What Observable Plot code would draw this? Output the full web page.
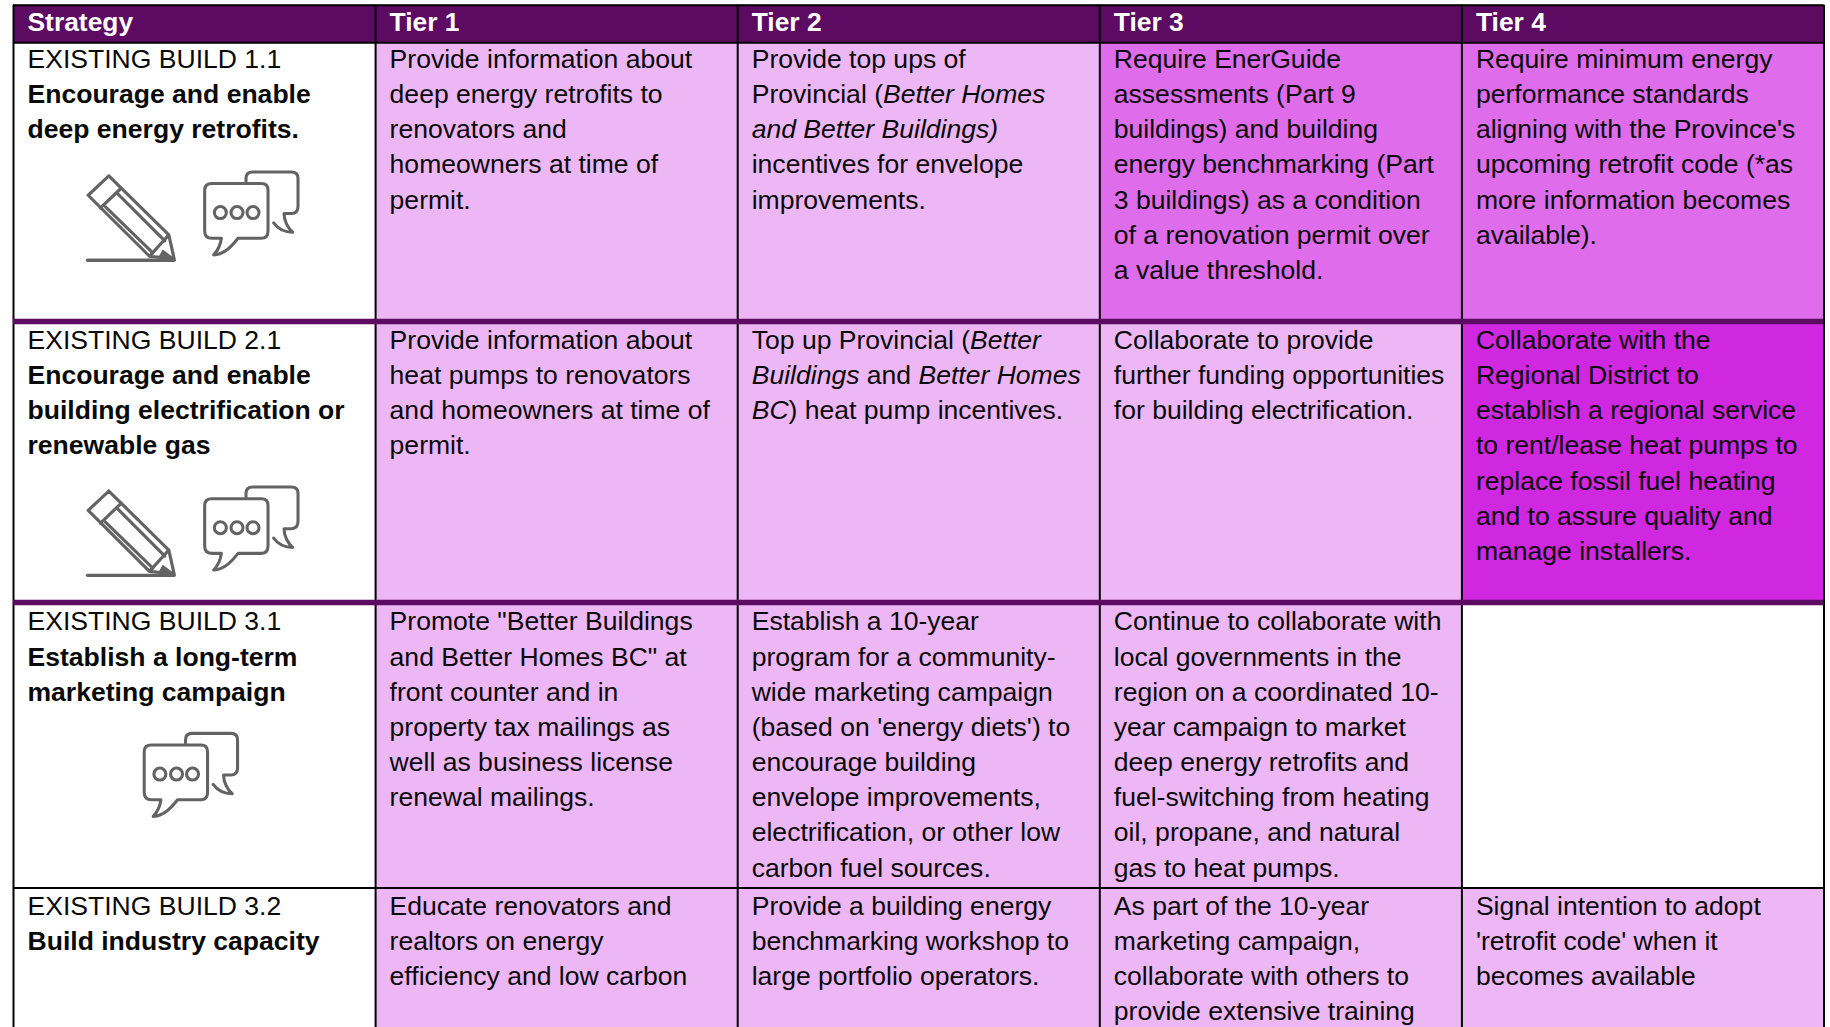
<!DOCTYPE html>
<html>
<head>
<meta charset="utf-8">
<style>html,body{margin:0;padding:0;background:#fff;overflow:hidden}svg{display:block}</style>
<script src="https://cdn.jsdelivr.net/npm/d3@7"></script>
<script src="https://cdn.jsdelivr.net/npm/@observablehq/plot@0.6"></script>
</head>
<body>
<script>
// ---- content ----
const headers = ["Strategy", "Tier 1", "Tier 2", "Tier 3", "Tier 4"];
const strategyCodes = ["EXISTING BUILD 1.1", "EXISTING BUILD 2.1", "EXISTING BUILD 3.1", "EXISTING BUILD 3.2"];
const strategyTitles = [
  ["Encourage and enable", "deep energy retrofits."],
  ["Encourage and enable", "building electrification or", "renewable gas"],
  ["Establish a long-term", "marketing campaign"],
  ["Build industry capacity"]
];
const tier1 = [
  ["Provide information about", "deep energy retrofits to", "renovators and", "homeowners at time of", "permit."],
  ["Provide information about", "heat pumps to renovators", "and homeowners at time of", "permit."],
  ["Promote \"Better Buildings", "and Better Homes BC\" at", "front counter and in", "property tax mailings as", "well as business license", "renewal mailings."],
  ["Educate renovators and", "realtors on energy", "efficiency and low carbon"]
];
const tier2 = [
  ["Provide top ups of", "Provincial (_Better Homes_", "_and Better Buildings)_", "incentives for envelope", "improvements."],
  ["Top up Provincial (_Better_", "_Buildings_ and _Better Homes_", "_BC_) heat pump incentives."],
  ["Establish a 10-year", "program for a community-", "wide marketing campaign", "(based on 'energy diets') to", "encourage building", "envelope improvements,", "electrification, or other low", "carbon fuel sources."],
  ["Provide a building energy", "benchmarking workshop to", "large portfolio operators."]
];
const tier3 = [
  ["Require EnerGuide", "assessments (Part 9", "buildings) and building", "energy benchmarking (Part", "3 buildings) as a condition", "of a renovation permit over", "a value threshold."],
  ["Collaborate to provide", "further funding opportunities", "for building electrification."],
  ["Continue to collaborate with", "local governments in the", "region on a coordinated 10-", "year campaign to market", "deep energy retrofits and", "fuel-switching from heating", "oil, propane, and natural", "gas to heat pumps."],
  ["As part of the 10-year", "marketing campaign,", "collaborate with others to", "provide extensive training"]
];
const tier4 = [
  ["Require minimum energy", "performance standards", "aligning with the Province's", "upcoming retrofit code (*as", "more information becomes", "available)."],
  ["Collaborate with the", "Regional District to", "establish a regional service", "to rent/lease heat pumps to", "replace fossil fuel heating", "and to assure quality and", "manage installers."],
  [],
  ["Signal intention to adopt", "'retrofit code' when it", "becomes available"]
];
// shade of each Tier cell: 0 none, 1 light, 2 medium, 3 strong
const shades = [[1,1,2,2],[1,1,1,3],[1,1,1,0],[1,1,1,1]];
// icons per strategy
const rowIcons = [["pencil","speech"],["pencil","speech"],["speech"],[]];

// ---- scale units: x in table columns, y in text lines ----
const rowFirstLine = [-0.01, 7.98, 15.985, 24.065];
const rowEdges = [-0.725, 7.2, 15.19, 23.31, 27.3];
const tableTop = -1.79;
const iconColumn = {pencil: 0.33, speech: 0.661, single: 0.494};
const iconLine = [4.21, 5.18, 4.18, 0];

const gray = "#646464";
const pencilSvg = `<svg xmlns="http://www.w3.org/2000/svg" viewBox="0 0 345 330"><defs><filter id="b"><feGaussianBlur stdDeviation="1.6"/></filter></defs><g filter="url(#b)" fill="none" stroke="${gray}" stroke-width="9.5" stroke-linejoin="round" stroke-linecap="round"><path d="M100 45 L38 103 L222 286 M100 45 L280 222 L296 294 L222 286 L280 222"/><path d="M137 82 L75 141"/><path d="M128 100 L268 240 M90 138 L232 276"/><path d="M36 298 L296 298" stroke-width="10"/><path d="M262 268 L294 292 L250 290Z" fill="${gray}" stroke-width="3"/></g></svg>`;
const speechSvg = `<svg xmlns="http://www.w3.org/2000/svg" viewBox="0 0 345 330"><defs><filter id="b"><feGaussianBlur stdDeviation="1.6"/></filter></defs><g filter="url(#b)" fill="none" stroke="${gray}" stroke-width="9.2" stroke-linejoin="round" stroke-linecap="round"><path d="M50 68 H198 Q218 68 218 88 V210 Q218 232 198 232 H128 C110 255 88 280 55 282 C68 268 76 250 78 232 H50 Q28 232 28 210 V88 Q28 68 50 68Z"/><path d="M152 62 V52 Q152 33 172 33 H288 Q308 33 308 52 V136 Q308 158 288 158 H266 C266 180 278 202 292 214 C268 214 248 204 235 186"/><circle cx="75" cy="155" r="18"/><circle cx="125" cy="155" r="18"/><circle cx="173" cy="155" r="18"/></g></svg>`;
const iconSrc = {
  pencil: "data:image/svg+xml;charset=utf-8," + encodeURIComponent(pencilSvg),
  speech: "data:image/svg+xml;charset=utf-8," + encodeURIComponent(speechSvg)
};

// ---- tables for the marks ----
const tierLists = [tier1, tier2, tier3, tier4];
const cells = shades.flatMap((row, r) => row.map((shade, t) => ({col: t + 1, r, shade})));
const bodyLines = tierLists.flatMap((list, t) => list.flatMap((lines, r) =>
  lines.map((text, k) => ({col: t + 1, line: rowFirstLine[r] + k, text}))));
const codeLines = strategyCodes.map((text, r) => ({col: 0, line: rowFirstLine[r], text}));
const titleLines = strategyTitles.flatMap((lines, r) =>
  lines.map((text, k) => ({col: 0, line: rowFirstLine[r] + 1 + k, text})));
const headerCells = headers.map((text, col) => ({col, text}));
const icons = rowIcons.flatMap((names, r) => names.map(name => ({
  name,
  col: names.length === 1 ? iconColumn.single : iconColumn[name],
  line: rowFirstLine[r] + iconLine[r]
})));

const purple = "#5c0a62";
const font = "Liberation Sans";
const textOpts = {x: "col", y: "line", dx: 14, text: "text", textAnchor: "start", lineAnchor: "bottom",
  fontFamily: font, fontSize: 26.55, fill: "#0a0a0a"};

const chart = Plot.plot({
  width: 1830, height: 1027,
  marginTop: 0, marginRight: 0, marginBottom: 0, marginLeft: 0,
  style: {background: "#fff", display: "block"},
  x: {type: "linear", domain: [0, 5], range: [13, 1823.5], axis: null},
  y: {type: "linear", domain: [-1.925, 27.276], range: [0, 1027], axis: null},
  color: {type: "ordinal", domain: [0, 1, 2, 3], range: ["#ffffff", "#edb7f5", "#df6deb", "#d027e0"]},
  marks: [
    Plot.rect(cells, {x1: "col", x2: d => d.col + 1, y1: d => rowEdges[d.r], y2: d => rowEdges[d.r + 1], fill: "shade"}),
    Plot.rect(headerCells, {x1: "col", x2: d => d.col + 1, y1: tableTop, y2: rowEdges[0], fill: purple}),
    Plot.ruleX([0, 1, 2, 3, 4, 5], {x: d => d, y1: tableTop, y2: rowEdges[4], stroke: "#000", strokeWidth: 2}),
    Plot.ruleY([tableTop, rowEdges[0], rowEdges[3]], {y: d => d, x1: 0, x2: 5, stroke: "#000", strokeWidth: 2}),
    Plot.ruleY([rowEdges[1], rowEdges[2]], {y: d => d, x1: 0, x2: 5, stroke: purple, strokeWidth: 5.4}),
    Plot.text(headerCells, {...textOpts, y: () => -1.06, fill: "#fff", fontWeight: "bold", fontSize: 26.4}),
    Plot.text(codeLines, textOpts),
    Plot.text(titleLines, {...textOpts, fontWeight: "bold"}),
    Plot.text(bodyLines, textOpts),
    Plot.image(icons, {x: "col", y: "line", src: d => iconSrc[d.name], width: 115, height: 110})
  ]
});

// Turn the _italic_ markers of a line into real italic runs.
chart.querySelectorAll("text").forEach(el => {
  const holders = el.querySelectorAll("tspan").length ? el.querySelectorAll("tspan") : [el];
  holders.forEach(h => {
    const s = h.textContent;
    if (!s.includes("_")) return;
    h.textContent = "";
    s.split("_").forEach((part, i) => {
      if (!part) return;
      const t = document.createElementNS("http://www.w3.org/2000/svg", "tspan");
      t.textContent = part;
      if (i % 2) t.setAttribute("font-style", "italic");
      h.appendChild(t);
    });
  });
});

document.body.appendChild(chart);
</script>
</body>
</html>
